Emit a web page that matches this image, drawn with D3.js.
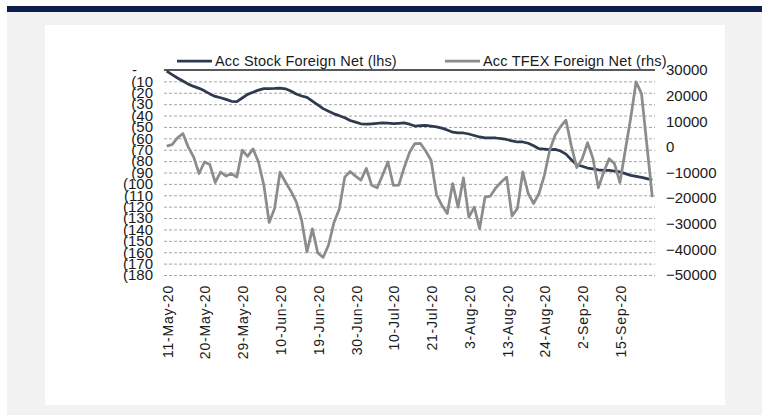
<!DOCTYPE html>
<html lang="en">
  <head>
    <meta charset="UTF-8" />
    <title>Acc Stock vs TFEX Foreign Net</title>
    <script src="https://cdn.jsdelivr.net/npm/d3@7/dist/d3.min.js"></script>
    <style>
      body { margin: 0; background: #fff; }
      text { font-family: 'Liberation Sans', Arial, sans-serif; fill: #1a1a1a; }
    </style>
  </head>
  <body>
    <svg width="762" height="415"></svg>
  </body>

  <script>
    // trading days (Thai market, 2020)
    var dates = [
      '11-May-20', '12-May-20', '13-May-20', '14-May-20', '15-May-20', '18-May-20', '19-May-20', '20-May-20',
      '21-May-20', '22-May-20', '25-May-20', '26-May-20', '27-May-20', '28-May-20', '29-May-20',
      '1-Jun-20', '2-Jun-20', '4-Jun-20', '5-Jun-20', '8-Jun-20', '9-Jun-20', '10-Jun-20', '11-Jun-20',
      '12-Jun-20', '15-Jun-20', '16-Jun-20', '17-Jun-20', '18-Jun-20', '19-Jun-20', '22-Jun-20', '23-Jun-20',
      '24-Jun-20', '25-Jun-20', '26-Jun-20', '29-Jun-20', '30-Jun-20',
      '1-Jul-20', '2-Jul-20', '3-Jul-20', '7-Jul-20', '8-Jul-20', '9-Jul-20', '10-Jul-20', '13-Jul-20',
      '14-Jul-20', '15-Jul-20', '16-Jul-20', '17-Jul-20', '20-Jul-20', '21-Jul-20', '22-Jul-20', '23-Jul-20',
      '24-Jul-20', '29-Jul-20', '30-Jul-20', '31-Jul-20',
      '3-Aug-20', '4-Aug-20', '5-Aug-20', '6-Aug-20', '7-Aug-20', '10-Aug-20', '11-Aug-20', '13-Aug-20',
      '14-Aug-20', '17-Aug-20', '18-Aug-20', '19-Aug-20', '20-Aug-20', '21-Aug-20', '24-Aug-20', '25-Aug-20',
      '26-Aug-20', '27-Aug-20', '28-Aug-20', '31-Aug-20',
      '1-Sep-20', '2-Sep-20', '3-Sep-20', '8-Sep-20', '9-Sep-20', '10-Sep-20', '11-Sep-20', '14-Sep-20',
      '15-Sep-20', '16-Sep-20', '17-Sep-20', '18-Sep-20', '21-Sep-20', '22-Sep-20', '23-Sep-20'
    ]

    // Acc Stock Foreign Net (lhs)
    var stockNet = [
      -1, -4.1, -7.0, -9.7, -12.4, -14.4, -16.1, -18.3, -21.0, -23.2,
      -24.4, -25.8, -27.5, -27.7, -24.6, -21.4, -19.5, -17.7, -16.4, -16.3,
      -16.2, -15.9, -16.5, -18.4, -21.1, -22.8, -24.0, -27.4, -30.7, -33.9,
      -36.3, -38.5, -40.1, -41.9, -44.3, -45.8, -47.2, -47.6, -47.3, -46.9,
      -46.5, -46.6, -47.0, -46.8, -46.5, -47.6, -49.2, -48.8, -48.7, -49.2,
      -49.9, -51.0, -52.7, -54.6, -55.2, -55.3, -56.2, -57.5, -58.8, -59.6,
      -59.7, -59.7, -60.3, -61.0, -62.3, -63.2, -63.2, -64.3, -66.5, -69.1,
      -69.5, -69.9, -69.7, -71.1, -73.9, -78.8, -83.2, -84.5, -86.1, -86.9,
      -87.7, -88.1, -88.1, -88.7, -89.5, -91.0, -92.5, -93.4, -94.3, -95.4,
      -96.6
    ]

    // Acc TFEX Foreign Net (rhs)
    var tfexNet = [
      300, 900, 3500, 5200, -100, -4000, -10400, -5900, -6900, -13900,
      -9800, -11400, -10400, -11800, -1300, -3700, -800, -5800, -14900, -29500,
      -24000, -9900, -13700, -17200, -21400, -28500, -41000, -32000, -41400, -43100,
      -38300, -29500, -24200, -11800, -9600, -11400, -13000, -8400, -15000, -16000,
      -11100, -5900, -15000, -14900, -8200, -2200, 1300, 1400, -1600, -5200,
      -18600, -22800, -26000, -14300, -23500, -12100, -27400, -23500, -31900, -19600,
      -19200, -16000, -13700, -11800, -27000, -24000, -9800, -18200, -22100, -18200,
      -11100, -1200, 4600, 7900, 10400, 300, -8100, -4700, 1600, -4500,
      -16000, -9800, -4600, -6600, -13900, -1200, 11300, 25400, 20800, 700,
      -19600
    ]

    var leftTicks = [0, -10, -20, -30, -40, -50, -60, -70, -80, -90, -100, -110, -120, -130, -140, -150, -160, -170, -180]
    var rightTicks = [30000, 20000, 10000, 0, -10000, -20000, -30000, -40000, -50000]
    var seriesNames = ['Acc Stock Foreign Net (lhs)', 'Acc TFEX Foreign Net (rhs)']
    var seriesColors = ['#2e3a4e', '#8c8c8c']

    var svg = d3.select('svg')

    // page frame
    svg.append('rect').attr('x', 7).attr('y', 12).attr('width', 755).attr('height', 403).attr('fill', '#f2f2f2')
    svg.append('rect').attr('x', 7).attr('y', 6).attr('width', 755).attr('height', 6).attr('fill', '#0c1f4a')
    svg.append('rect').attr('x', 45).attr('y', 25).attr('width', 680).attr('height', 380).attr('fill', '#fff')

    var plot = { left: 164, right: 655, top: 70, bottom: 275 }

    var x = d3.scalePoint().domain(dates).range([plot.left, plot.right]).padding(0.5)
    var yL = d3.scaleLinear().domain([0, -180]).range([plot.top, plot.bottom])
    var yR = d3.scaleLinear().domain([30000, -50000]).range([plot.top, plot.bottom])

    // gridlines
    svg.append('g')
      .selectAll('line')
      .data(leftTicks.slice(1))
      .enter()
      .append('line')
      .attr('x1', plot.left)
      .attr('x2', plot.right)
      .attr('y1', function (d) { return yL(d) + 0.5 })
      .attr('y2', function (d) { return yL(d) + 0.5 })
      .attr('stroke', '#a6a6a6')
      .attr('stroke-width', 1)
      .attr('stroke-dasharray', '3,2')

    // category axis line sits at 0 on the left axis (top)
    svg.append('line')
      .attr('x1', plot.left).attr('x2', plot.right)
      .attr('y1', yL(0)).attr('y2', yL(0))
      .attr('stroke', '#595959').attr('stroke-width', 2)

    // left axis labels
    var gl = svg.append('g')
      .attr('transform', 'translate(153,0)')
      .call(d3.axisLeft(yL).tickValues(leftTicks).tickSize(0).tickPadding(0)
        .tickFormat(function (d) { return d === 0 ? '-' : '(' + (-d) }))
    gl.select('.domain').remove()
    gl.selectAll('text').attr('font-size', 15).attr('font-family', "'Liberation Sans', Arial, sans-serif").attr('fill', '#1a1a1a')
    gl.selectAll('.tick').filter(function (d) { return d === 0 }).select('text').attr('x', -16)

    // right axis labels
    var gr = svg.append('g')
      .attr('transform', 'translate(666,0)')
      .call(d3.axisRight(yR).tickValues(rightTicks).tickSize(0).tickPadding(0).tickFormat(d3.format('d')))
    gr.select('.domain').remove()
    gr.selectAll('text').attr('font-size', 15).attr('font-family', "'Liberation Sans', Arial, sans-serif").attr('fill', '#1a1a1a')

    // x labels, every 7th trading day
    svg.append('g')
      .selectAll('text')
      .data(dates.filter(function (d, i) { return i % 7 === 0 }))
      .enter()
      .append('text')
      .attr('transform', function (d) { return 'translate(' + (x(d) + 6) + ',285) rotate(-90)' })
      .attr('text-anchor', 'end')
      .attr('font-size', 14)
      .attr('letter-spacing', 0.8)
      .text(function (d) { return d })

    // lines
    var lineL = d3.line()
      .x(function (d, i) { return x(dates[i]) })
      .y(function (d) { return yL(d) })
    var lineR = d3.line()
      .x(function (d, i) { return x(dates[i]) })
      .y(function (d) { return yR(d) })

    svg.append('path')
      .attr('d', lineL(stockNet))
      .attr('fill', 'none')
      .attr('stroke', seriesColors[0])
      .attr('stroke-width', 2.75)
      .attr('stroke-linejoin', 'round')

    svg.append('path')
      .attr('d', lineR(tfexNet))
      .attr('fill', 'none')
      .attr('stroke', seriesColors[1])
      .attr('stroke-width', 2.75)
      .attr('stroke-linejoin', 'round')

    // legend
    var legendX = [177, 445]
    var lg = svg.append('g')
      .selectAll('g')
      .data(seriesNames)
      .enter()
      .append('g')
      .attr('transform', function (d, i) { return 'translate(' + legendX[i] + ',61)' })
    lg.append('line')
      .attr('x1', 0).attr('x2', 35)
      .attr('stroke', function (d, i) { return seriesColors[i] })
      .attr('stroke-width', 2.75)
    lg.append('text')
      .attr('x', 38)
      .attr('y', 5)
      .attr('font-size', 14.5)
      .attr('letter-spacing', 0.2)
      .text(function (d) { return d })
  </script>
</html>
